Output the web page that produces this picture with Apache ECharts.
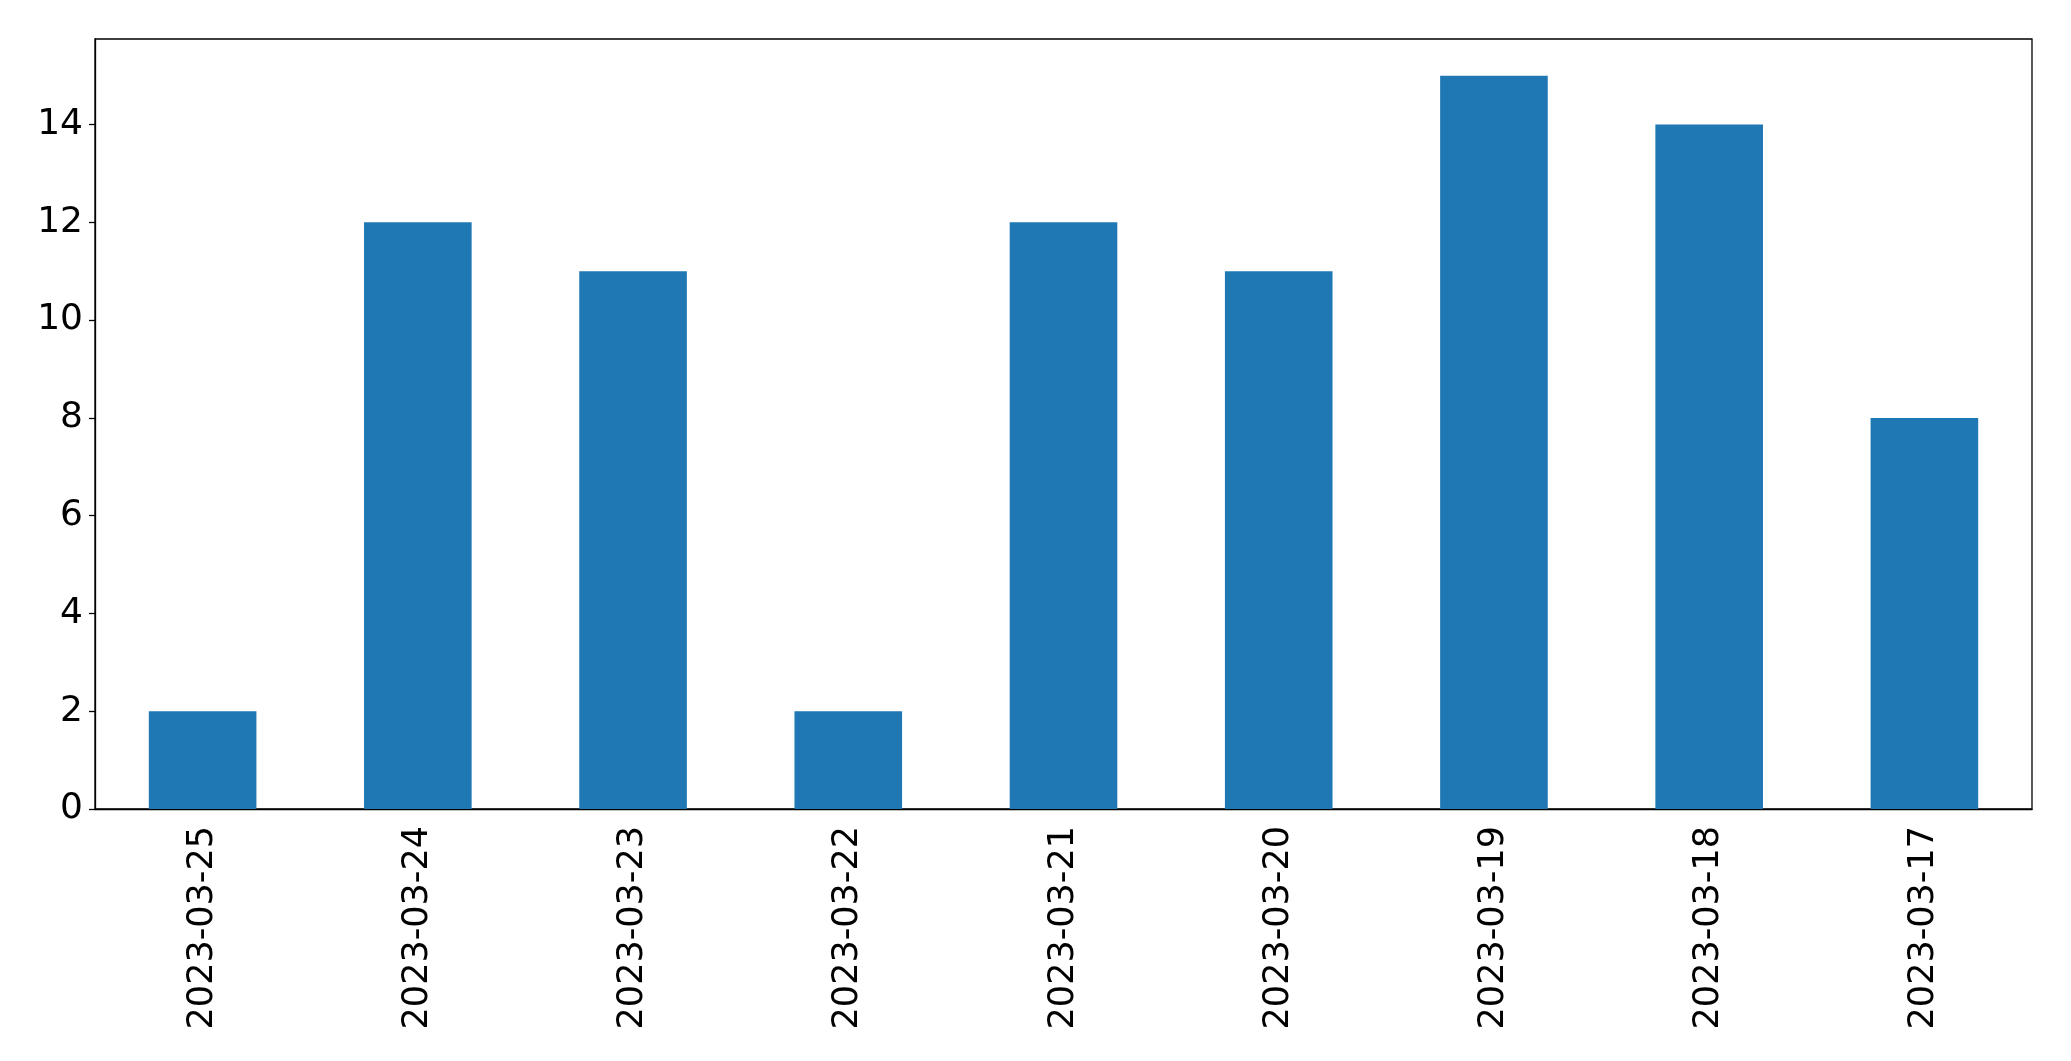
<!DOCTYPE html>
<html><head><meta charset="utf-8">
<script src="https://cdn.jsdelivr.net/npm/echarts@6/dist/echarts.min.js"></script>
<style>html,body{margin:0;padding:0;background:#fff}#c{width:2071px;height:1061px}</style>
</head><body><div id="c"></div>
<script>
const categories = ['2023-03-25','2023-03-24','2023-03-23','2023-03-22','2023-03-21','2023-03-20','2023-03-19','2023-03-18','2023-03-17'];
const counts = [2, 12, 11, 2, 12, 11, 15, 14, 8];
const yTicks = [0, 2, 4, 6, 8, 10, 12, 14];

const chart = echarts.init(document.getElementById('c'), null, {renderer: 'canvas'});
const font = 'DejaVu Sans';
chart.setOption({
  animation: false,
  backgroundColor: '#fff',
  grid: {left: 95, right: 39, top: 39, bottom: 252, show: true, borderColor: '#000', borderWidth: 1.3, containLabel: false},
  xAxis: {
    type: 'category', data: categories,
    axisLine: {lineStyle: {color: '#000', width: 1.3}},
    axisTick: {alignWithLabel: true, length: 6, lineStyle: {color: '#000', width: 1.3}},
    axisLabel: {rotate: 90, margin: 17, color: '#000', fontSize: 35, fontFamily: font, interval: 0}
  },
  yAxis: {
    type: 'value', min: 0, max: 15.75,
    splitLine: {show: false},
    axisLine: {show: true, lineStyle: {color: '#000', width: 1.3}},
    axisTick: {show: true, length: 6, lineStyle: {color: '#000', width: 1.3}, customValues: yTicks},
    axisLabel: {color: '#000', fontSize: 36, fontFamily: font, margin: 12, customValues: yTicks}
  },
  series: [{
    type: 'bar', data: counts, barWidth: '50%',
    itemStyle: {color: '#1f77b4'}
  }]
});
</script></body></html>
